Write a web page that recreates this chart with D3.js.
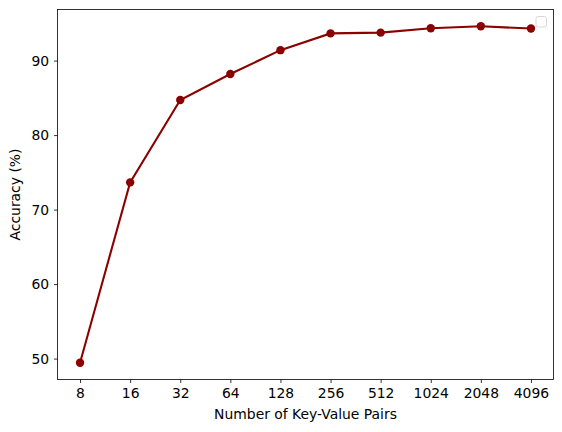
<!DOCTYPE html>
<html>
<head>
<meta charset="utf-8">
<style>
body { margin: 0; background: #fff; }
text { font-family: "DejaVu Sans", sans-serif; }
</style>
</head>
<body>
<svg width="562" height="432"></svg>
<script src="https://cdn.jsdelivr.net/npm/d3@7/dist/d3.min.js"></script>
<script>
var pairs = ["8", "16", "32", "64", "128", "256", "512", "1024", "2048", "4096"];
var accuracy = [49.45, 73.65, 84.7, 88.2, 91.4, 93.65, 93.75, 94.35, 94.6, 94.3];
var yTicks = [50, 60, 70, 80, 90];

var svg = d3.select("svg");
var m = { left: 57.5, right: 553.5, top: 9.5, bottom: 379.5 };

// matplotlib style margins: 5% of data range on each side
var x = d3.scaleLinear().domain([-0.45, pairs.length - 1 + 0.45]).range([m.left, m.right]);
var ymin = d3.min(accuracy), ymax = d3.max(accuracy), pad = (ymax - ymin) * 0.05;
var y = d3.scaleLinear().domain([ymin - pad, ymax + pad]).range([m.bottom, m.top]);

var xAxis = d3.axisBottom(x)
  .tickValues(d3.range(pairs.length))
  .tickFormat(function(d) { return pairs[d]; })
  .tickSize(3.5).tickPadding(4.9);
var yAxis = d3.axisLeft(y).tickValues(yTicks).tickSize(3.5).tickPadding(4.9);

function style(g) {
  g.select(".domain").remove();
  g.selectAll("line").attr("stroke", "#000").attr("stroke-width", 0.8);
  g.selectAll("text").attr("font-size", 13.9).attr("fill", "#000")
    .attr("font-family", "DejaVu Sans, sans-serif");
}

svg.append("g").attr("transform", "translate(0," + m.bottom + ")").call(xAxis).call(style);
svg.append("g").attr("transform", "translate(" + m.left + ",0)").call(yAxis).call(style);

var line = d3.line()
  .x(function(d, i) { return x(i); })
  .y(function(d) { return y(d); });

svg.append("path")
  .datum(accuracy)
  .attr("d", line)
  .attr("fill", "none")
  .attr("stroke", "darkred")
  .attr("stroke-width", 2.08);

svg.selectAll("circle")
  .data(accuracy)
  .enter()
  .append("circle")
  .attr("cx", function(d, i) { return x(i); })
  .attr("cy", function(d) { return y(d); })
  .attr("r", 4.2)
  .attr("fill", "darkred");

svg.append("rect")
  .attr("x", m.left).attr("y", m.top)
  .attr("width", m.right - m.left).attr("height", m.bottom - m.top)
  .attr("fill", "none").attr("stroke", "#000").attr("stroke-width", 0.8);

// empty legend box
svg.append("rect")
  .attr("x", 536).attr("y", 16.5)
  .attr("width", 10.5).attr("height", 10.5)
  .attr("rx", 2)
  .attr("fill", "#fff").attr("fill-opacity", 0.8)
  .attr("stroke", "#d8d8d8").attr("stroke-width", 1);

svg.append("text")
  .attr("x", (m.left + m.right) / 2).attr("y", 419)
  .attr("text-anchor", "middle").attr("font-size", 13.9)
  .text("Number of Key-Value Pairs");

svg.append("text")
  .attr("transform", "translate(20," + ((m.top + m.bottom) / 2) + ") rotate(-90)")
  .attr("text-anchor", "middle").attr("font-size", 13.9)
  .text("Accuracy (%)");
</script>
</body>
</html>
